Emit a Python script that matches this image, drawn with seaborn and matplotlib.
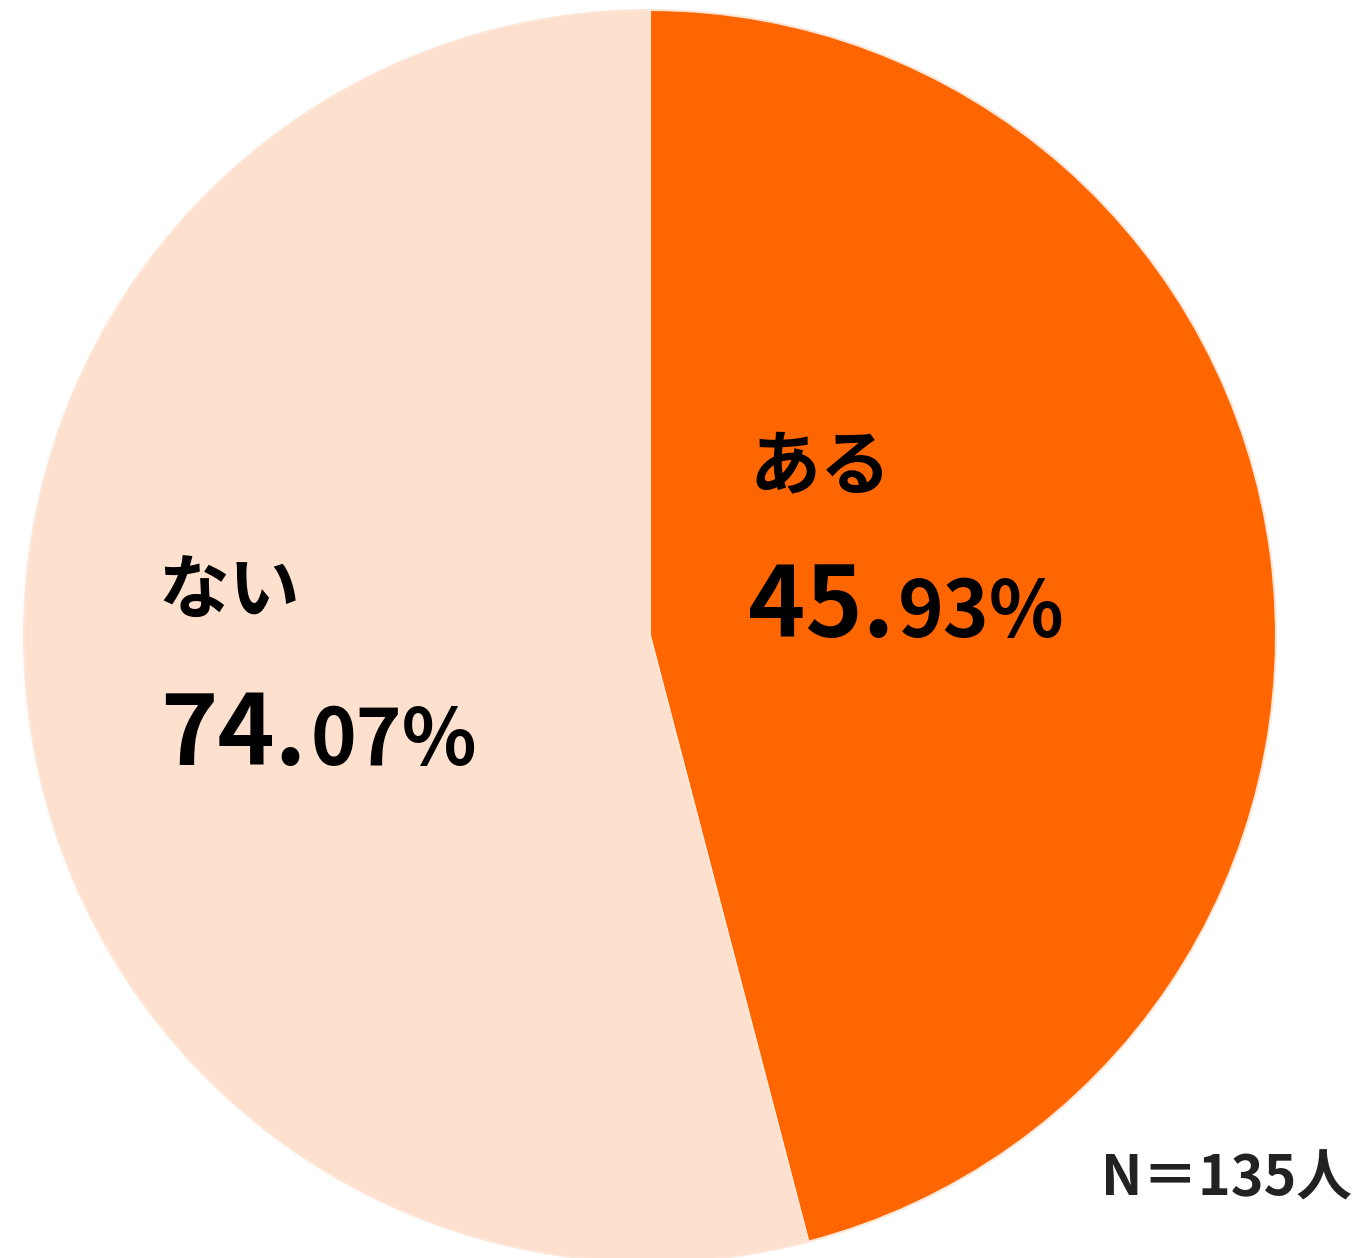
import matplotlib
matplotlib.use("Agg")
import matplotlib.pyplot as plt
import seaborn as sns

# data
categories = ["ある", "ない"]
values = [45.93, 54.07]
label_main = ["45.", "74."]
label_tail = ["93%", "07%"]
note = "N＝135人"

sns.set_theme(style="white")
plt.rcParams['font.family'] = ['Noto Sans CJK JP', 'DejaVu Sans']

colors = ["#FF6600", "#FDE0CE"]

W, H = 1365, 1258
fig = plt.figure(figsize=(W / 100, H / 100), dpi=100)
ax = fig.add_axes([0, 0, 1, 1])
ax.axis("off")

ax.pie(values, radius=626, center=(650, H - 636), startangle=90, counterclock=False,
       colors=colors, wedgeprops=dict(edgecolor="#FDE6D8", linewidth=1.5))
ax.set_xlim(0, W)
ax.set_ylim(0, H)
ax.set_aspect("auto")

# label positions (pixel coords from top)
cat_pos = [(750, 467), (158, 593)]
num_pos = [(748, 637), (160, 765)]

big = 70
small = 56
texts = []
for i in range(2):
    cx, cy = cat_pos[i]
    ax.text(cx, H - cy, categories[i], fontsize=51, fontweight="bold", color="black",
            ha="left", va="center")
    nx, ny = num_pos[i]
    t1 = ax.text(nx, H - ny, label_main[i], fontsize=big, fontweight="bold", color="black",
                 ha="left", va="baseline")
    texts.append((t1, i, ny))

fig.canvas.draw()
renderer = fig.canvas.get_renderer()
for t1, i, ny in texts:
    ext = t1.get_window_extent(renderer)
    x1 = ax.transData.inverted().transform((ext.x1, ext.y0))[0]
    ax.text(x1 + 4, H - ny, label_tail[i], fontsize=small, fontweight="bold", color="black",
            ha="left", va="baseline")

ax.text(1352, H - 1180, note, fontsize=40, fontweight="bold", color="#222222",
        ha="right", va="center")

fig.savefig("out.png", dpi=100)
